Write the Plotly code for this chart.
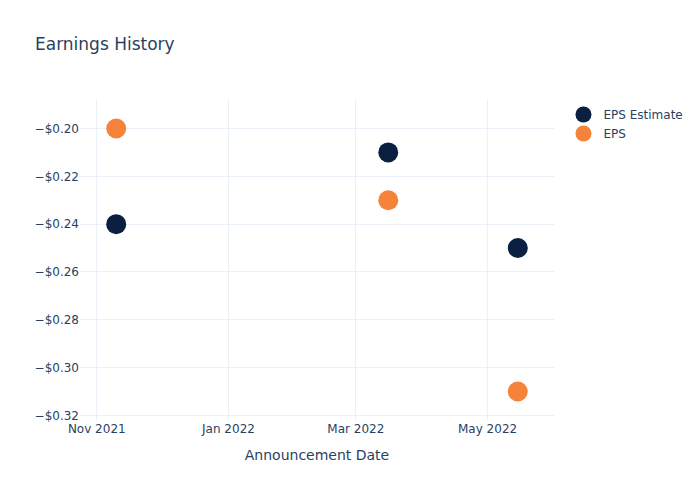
import plotly.graph_objects as go

dates = ["2021-11-10", "2022-03-16", "2022-05-15"]
eps_estimate = [-0.24, -0.21, -0.25]
eps_actual = [-0.20, -0.23, -0.31]

fig = go.Figure()
fig.add_trace(go.Scatter(x=dates, y=eps_estimate, mode="markers", name="EPS Estimate",
                         marker=dict(color="#0b1f41", size=20)))
fig.add_trace(go.Scatter(x=dates, y=eps_actual, mode="markers", name="EPS",
                         marker=dict(color="#f6833a", size=20)))
fig.update_layout(
    template="plotly_white",
    width=700, height=500,
    font=dict(family="DejaVu Sans"),
    title="Earnings History",
    xaxis_title="Announcement Date",
    yaxis=dict(tickformat="$.2f"),
)
fig.write_html("out.html")
